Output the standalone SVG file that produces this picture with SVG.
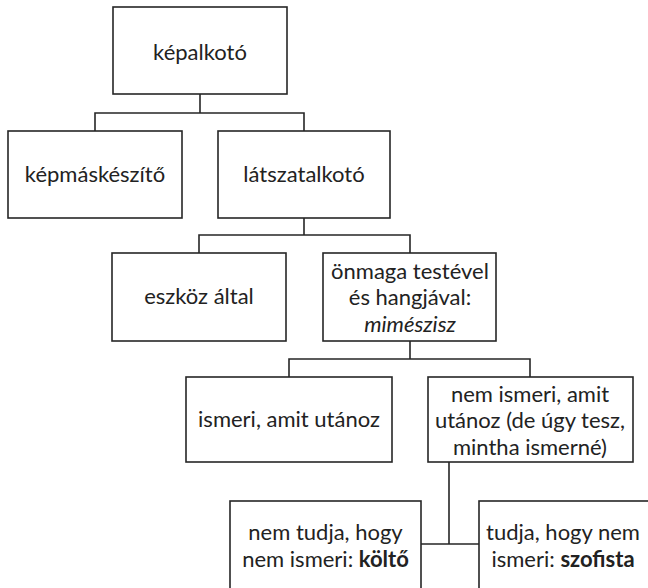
<svg xmlns="http://www.w3.org/2000/svg" width="648" height="588" viewBox="0 0 648 588">
<style>
.box{fill:#fff;stroke:#262626;stroke-width:1.6}
.ln{fill:none;stroke:#262626;stroke-width:1.6}
text{font-family:Lato,"Liberation Sans",sans-serif;font-size:22px;fill:#222;text-anchor:middle}
.b{font-weight:bold}
.i{font-style:italic}
</style>
<rect width="648" height="588" fill="#fff"/>
<g id="connectors">
<path class="ln" d="M200,94V113M95,131V113H304V131"/>
<path class="ln" d="M304,218V235M199,253V235H410V253"/>
<path class="ln" d="M410,341V359M289,377V359H530V377"/>
<path class="ln" d="M449,462V544M421,544H479"/>
</g>
<g id="kepalkoto"><rect class="box" x="113" y="7" width="174" height="87"/><text x="200" y="60">képalkotó</text></g>
<g id="kepmaskeszito"><rect class="box" x="8" y="131" width="174" height="87"/><text x="95" y="182">képmáskészítő</text></g>
<g id="latszatalkoto"><rect class="box" x="218" y="131" width="172" height="87"/><text x="304" y="182">látszatalkotó</text></g>
<g id="eszkoz"><rect class="box" x="112" y="253" width="174" height="88"/><text x="199" y="304">eszköz által</text></g>
<g id="onmaga"><rect class="box" x="323" y="253" width="173" height="88"/><text x="410" y="278.5">önmaga testével</text><text x="410" y="305">és hangjával:</text><text x="410" y="331.5" class="i">mimészisz</text></g>
<g id="ismeri"><rect class="box" x="186" y="377" width="206" height="85"/><text x="289" y="427">ismeri, amit utánoz</text></g>
<g id="nemismeri"><rect class="box" x="428" y="377" width="205" height="85"/><text x="530" y="401.5">nem ismeri, amit</text><text x="530" y="428">utánoz (de úgy tesz,</text><text x="530" y="454.5">mintha ismerné)</text></g>
<g id="kolto"><rect class="box" x="230" y="501" width="191" height="92"/><text x="325.5" y="540">nem tudja, hogy</text><text x="325.5" y="566.5">nem ismeri: <tspan class="b">költő</tspan></text></g>
<g id="szofista"><rect class="box" x="479" y="501" width="190" height="92"/><text x="563" y="540">tudja, hogy nem</text><text x="563" y="566.5">ismeri: <tspan class="b">szofista</tspan></text></g>
</svg>
